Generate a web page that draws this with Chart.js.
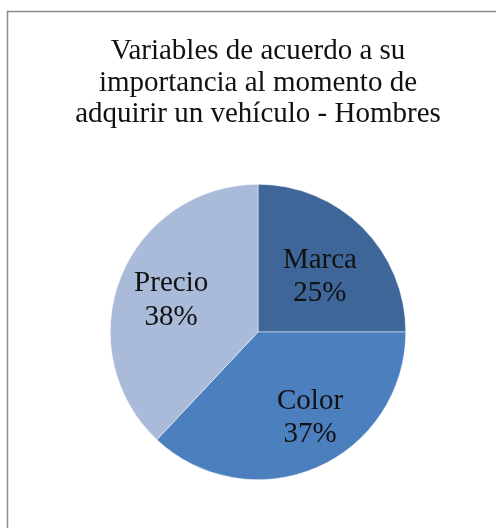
<!DOCTYPE html>
<html>
<head>
<meta charset="utf-8">
<script src="https://cdn.jsdelivr.net/npm/chart.js@4/dist/chart.umd.min.js"></script>
<style>
  html, body { margin: 0; padding: 0; background: #ffffff; }
  #wrap { position: relative; width: 496px; height: 528px; }
</style>
</head>
<body>
<div id="wrap"><canvas id="c" width="496" height="528"></canvas></div>
<script>
const titleLines = ['Variables de acuerdo a su', 'importancia al momento de', 'adquirir un vehículo - Hombres'];
const categories = ['Marca', 'Color', 'Precio'];
const percentages = [25, 37, 38];
const sliceColors = ['#3e6699', '#4c7fbd', '#aabad9'];

const SERIF = '"Liberation Serif", "Times New Roman", serif';

// Grey frame around the chart area, running off the right and bottom edges
const framePlugin = {
  id: 'frame',
  beforeDraw(chart) {
    const ctx = chart.ctx;
    ctx.save();
    ctx.fillStyle = '#ffffff';
    ctx.fillRect(0, 0, chart.width, chart.height);
    ctx.strokeStyle = '#8c8c8c';
    ctx.lineWidth = 1.5;
    ctx.strokeRect(7.5, 11.5, chart.width + 20, chart.height + 20);
    ctx.restore();
  }
};

// Category name and percentage inside each slice (best-fit placement per slice)
const sliceLabelPlugin = {
  id: 'sliceLabels',
  afterDatasetsDraw(chart, args, opts) {
    const ctx = chart.ctx;
    const meta = chart.getDatasetMeta(0);
    ctx.save();
    ctx.fillStyle = '#111111';
    ctx.font = '29px ' + SERIF;
    ctx.textAlign = 'center';
    ctx.textBaseline = 'middle';
    meta.data.forEach((arc, i) => {
      const p = arc.getProps(['x', 'y', 'startAngle', 'endAngle', 'outerRadius'], true);
      const mid = (p.startAngle + p.endAngle) / 2 + opts.angleShift[i];
      const r = p.outerRadius * opts.radial[i];
      const cx = p.x + Math.cos(mid) * r;
      const cy = p.y + Math.sin(mid) * r;
      ctx.fillText(categories[i], cx, cy - 16.75);
      ctx.fillText(percentages[i] + '%', cx, cy + 16.75);
    });
    ctx.restore();
  }
};

new Chart(document.getElementById('c'), {
  type: 'pie',
  data: {
    labels: categories,
    datasets: [{
      data: percentages,
      backgroundColor: sliceColors,
      borderColor: '#ffffff',
      borderWidth: 0.5
    }]
  },
  options: {
    responsive: false,
    animation: false,
    layout: { padding: { left: 20, right: 0, top: 0, bottom: 48 } },
    plugins: {
      legend: { display: false },
      tooltip: { enabled: false },
      title: {
        display: true,
        text: titleLines,
        color: '#111111',
        font: { family: SERIF, size: 29, weight: 'normal', lineHeight: 1.086 },
        padding: { top: 36, bottom: 53.5 }
      },
      sliceLabels: {
        radial: [0.56, 0.68, 0.625],
        angleShift: [0.06, -0.136, -0.03]
      }
    }
  },
  plugins: [framePlugin, sliceLabelPlugin]
});
</script>
</body>
</html>
